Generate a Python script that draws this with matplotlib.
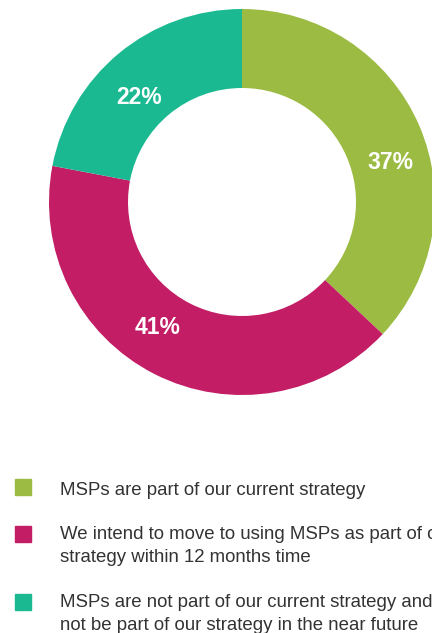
import matplotlib
matplotlib.use('Agg')
from matplotlib import pyplot as plt
from matplotlib.patches import Rectangle

plt.rcParams['font.family'] = ['Liberation Sans', 'DejaVu Sans']

#%%
categories = ['MSPs are part of our current strategy',
              'We intend to move to using MSPs as part of our\nstrategy within 12 months time',
              'MSPs are not part of our current strategy and will\nnot be part of our strategy in the near future']
shares = [37, 41, 22]
pct_labels = ['37%', '41%', '22%']
colors = ['#9bbb42', '#c21d65', '#1bb992']

# where the percentage labels sit (data units, radius 1 = outer edge)
label_pos = [(0.767, 0.207), (-0.44, -0.648), (-0.534, 0.544)]

#%%
W, H = 432, 633
fig = plt.figure(figsize=(W / 100, H / 100), dpi=100)

cx, cy, r = 242, 202, 193
ax = fig.add_axes([(cx - r) / W, 1 - (cy + r) / H, 2 * r / W, 2 * r / H])
wedges, _ = ax.pie(shares, colors=colors, startangle=90, counterclock=False,
                   radius=1, wedgeprops=dict(width=1 - 114 / 193, linewidth=0))
ax.set_xlim(-1, 1)
ax.set_ylim(-1, 1)
ax.set_aspect('equal')
ax.axis('off')

for lab, (x, y) in zip(pct_labels, label_pos):
    ax.text(x, y, lab, color='white', fontsize=16.5, fontweight='bold',
            ha='center', va='center')

# legend drawn by hand (square + wrapped text)
# the long lines run past the right edge, like in the original picture
sq_tops = [479, 526, 594]
text_shift = [3, 0, 0]
for top, dy, col, txt in zip(sq_tops, text_shift, colors, categories):
    fig.patches.append(Rectangle((15 / W, 1 - (top + 16) / H), 16 / W, 16 / H,
                                 transform=fig.transFigure, color=col))
    fig.text(60 / W, 1 - (top + dy) / H, txt, fontsize=13.4, color='#333333',
             ha='left', va='top', linespacing=1.5)

plt.savefig('out.png', dpi=100)
